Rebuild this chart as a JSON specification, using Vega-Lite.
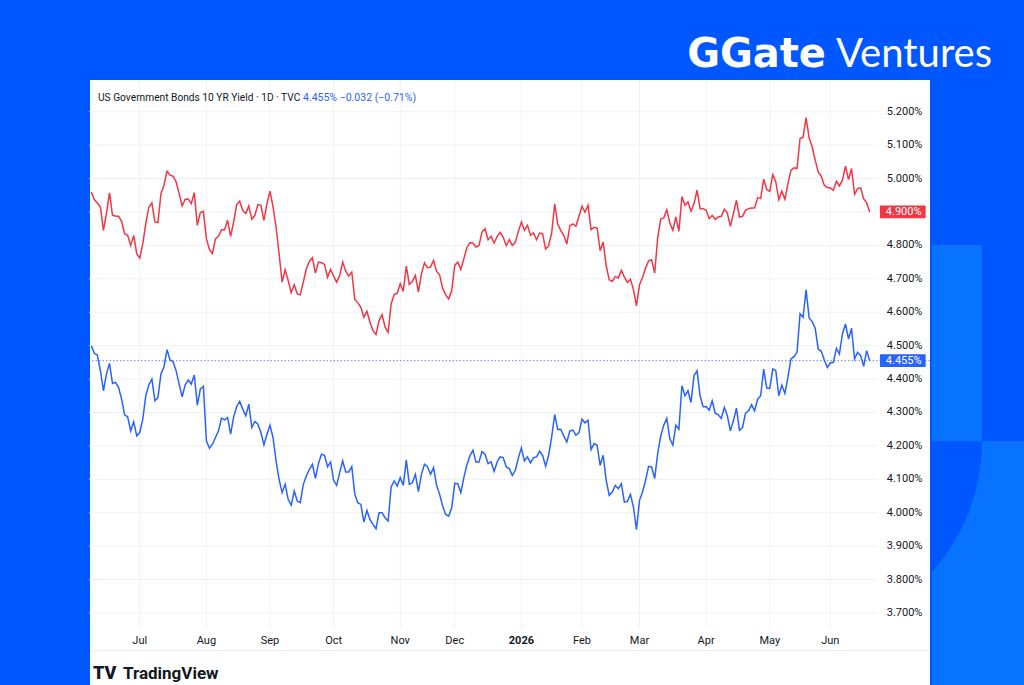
{
  "$schema": "https://vega.github.io/schema/vega-lite/v6.json",
  "width": 840,
  "height": 605,
  "autosize": "none",
  "padding": {"left": 90, "top": 80, "right": 94, "bottom": 0},
  "background": "#0056ff",
  "config": {"view": {"fill": "#ffffff", "stroke": null}, "font": "Roboto"},
  "datasets": {
    "yields": [
      {"date": "2025-06-06", "us30y": 4.960, "us10y": 4.500},
      {"date": "2025-06-09", "us30y": 4.937, "us10y": 4.477},
      {"date": "2025-06-10", "us30y": 4.927, "us10y": 4.472},
      {"date": "2025-06-11", "us30y": 4.915, "us10y": 4.425},
      {"date": "2025-06-12", "us30y": 4.845, "us10y": 4.365},
      {"date": "2025-06-13", "us30y": 4.895, "us10y": 4.415},
      {"date": "2025-06-16", "us30y": 4.957, "us10y": 4.447},
      {"date": "2025-06-17", "us30y": 4.890, "us10y": 4.387},
      {"date": "2025-06-18", "us30y": 4.888, "us10y": 4.390},
      {"date": "2025-06-20", "us30y": 4.887, "us10y": 4.375},
      {"date": "2025-06-23", "us30y": 4.872, "us10y": 4.340},
      {"date": "2025-06-24", "us30y": 4.835, "us10y": 4.293},
      {"date": "2025-06-25", "us30y": 4.830, "us10y": 4.287},
      {"date": "2025-06-26", "us30y": 4.800, "us10y": 4.245},
      {"date": "2025-06-27", "us30y": 4.830, "us10y": 4.272},
      {"date": "2025-06-30", "us30y": 4.775, "us10y": 4.230},
      {"date": "2025-07-01", "us30y": 4.762, "us10y": 4.240},
      {"date": "2025-07-02", "us30y": 4.805, "us10y": 4.280},
      {"date": "2025-07-03", "us30y": 4.865, "us10y": 4.350},
      {"date": "2025-07-07", "us30y": 4.915, "us10y": 4.383},
      {"date": "2025-07-08", "us30y": 4.927, "us10y": 4.400},
      {"date": "2025-07-09", "us30y": 4.870, "us10y": 4.335},
      {"date": "2025-07-10", "us30y": 4.868, "us10y": 4.345},
      {"date": "2025-07-11", "us30y": 4.955, "us10y": 4.415},
      {"date": "2025-07-14", "us30y": 4.980, "us10y": 4.437},
      {"date": "2025-07-15", "us30y": 5.022, "us10y": 4.488},
      {"date": "2025-07-16", "us30y": 5.010, "us10y": 4.457},
      {"date": "2025-07-17", "us30y": 5.007, "us10y": 4.452},
      {"date": "2025-07-18", "us30y": 4.990, "us10y": 4.425},
      {"date": "2025-07-21", "us30y": 4.955, "us10y": 4.385},
      {"date": "2025-07-22", "us30y": 4.918, "us10y": 4.347},
      {"date": "2025-07-23", "us30y": 4.938, "us10y": 4.383},
      {"date": "2025-07-24", "us30y": 4.939, "us10y": 4.397},
      {"date": "2025-07-25", "us30y": 4.925, "us10y": 4.385},
      {"date": "2025-07-28", "us30y": 4.958, "us10y": 4.412},
      {"date": "2025-07-29", "us30y": 4.860, "us10y": 4.322},
      {"date": "2025-07-30", "us30y": 4.898, "us10y": 4.370},
      {"date": "2025-07-31", "us30y": 4.902, "us10y": 4.378},
      {"date": "2025-08-01", "us30y": 4.820, "us10y": 4.215},
      {"date": "2025-08-04", "us30y": 4.788, "us10y": 4.193},
      {"date": "2025-08-05", "us30y": 4.775, "us10y": 4.205},
      {"date": "2025-08-06", "us30y": 4.820, "us10y": 4.225},
      {"date": "2025-08-07", "us30y": 4.827, "us10y": 4.245},
      {"date": "2025-08-08", "us30y": 4.847, "us10y": 4.283},
      {"date": "2025-08-11", "us30y": 4.847, "us10y": 4.278},
      {"date": "2025-08-12", "us30y": 4.875, "us10y": 4.285},
      {"date": "2025-08-13", "us30y": 4.827, "us10y": 4.235},
      {"date": "2025-08-14", "us30y": 4.870, "us10y": 4.287},
      {"date": "2025-08-15", "us30y": 4.922, "us10y": 4.318},
      {"date": "2025-08-18", "us30y": 4.932, "us10y": 4.333},
      {"date": "2025-08-19", "us30y": 4.905, "us10y": 4.310},
      {"date": "2025-08-20", "us30y": 4.895, "us10y": 4.290},
      {"date": "2025-08-21", "us30y": 4.918, "us10y": 4.325},
      {"date": "2025-08-22", "us30y": 4.878, "us10y": 4.255},
      {"date": "2025-08-25", "us30y": 4.890, "us10y": 4.273},
      {"date": "2025-08-26", "us30y": 4.922, "us10y": 4.265},
      {"date": "2025-08-27", "us30y": 4.920, "us10y": 4.240},
      {"date": "2025-08-28", "us30y": 4.875, "us10y": 4.203},
      {"date": "2025-08-29", "us30y": 4.925, "us10y": 4.235},
      {"date": "2025-09-02", "us30y": 4.962, "us10y": 4.262},
      {"date": "2025-09-03", "us30y": 4.915, "us10y": 4.225},
      {"date": "2025-09-04", "us30y": 4.855, "us10y": 4.155},
      {"date": "2025-09-05", "us30y": 4.775, "us10y": 4.100},
      {"date": "2025-09-08", "us30y": 4.690, "us10y": 4.060},
      {"date": "2025-09-09", "us30y": 4.727, "us10y": 4.085},
      {"date": "2025-09-10", "us30y": 4.695, "us10y": 4.040},
      {"date": "2025-09-11", "us30y": 4.658, "us10y": 4.023},
      {"date": "2025-09-12", "us30y": 4.682, "us10y": 4.065},
      {"date": "2025-09-15", "us30y": 4.655, "us10y": 4.035},
      {"date": "2025-09-16", "us30y": 4.652, "us10y": 4.030},
      {"date": "2025-09-17", "us30y": 4.690, "us10y": 4.085},
      {"date": "2025-09-18", "us30y": 4.730, "us10y": 4.110},
      {"date": "2025-09-19", "us30y": 4.752, "us10y": 4.130},
      {"date": "2025-09-22", "us30y": 4.763, "us10y": 4.145},
      {"date": "2025-09-23", "us30y": 4.717, "us10y": 4.103},
      {"date": "2025-09-24", "us30y": 4.750, "us10y": 4.147},
      {"date": "2025-09-25", "us30y": 4.748, "us10y": 4.175},
      {"date": "2025-09-26", "us30y": 4.743, "us10y": 4.172},
      {"date": "2025-09-29", "us30y": 4.705, "us10y": 4.138},
      {"date": "2025-09-30", "us30y": 4.728, "us10y": 4.152},
      {"date": "2025-10-01", "us30y": 4.708, "us10y": 4.097},
      {"date": "2025-10-02", "us30y": 4.690, "us10y": 4.082},
      {"date": "2025-10-03", "us30y": 4.710, "us10y": 4.120},
      {"date": "2025-10-06", "us30y": 4.750, "us10y": 4.155},
      {"date": "2025-10-07", "us30y": 4.723, "us10y": 4.122},
      {"date": "2025-10-08", "us30y": 4.708, "us10y": 4.122},
      {"date": "2025-10-09", "us30y": 4.720, "us10y": 4.138},
      {"date": "2025-10-10", "us30y": 4.638, "us10y": 4.055},
      {"date": "2025-10-14", "us30y": 4.628, "us10y": 4.030},
      {"date": "2025-10-15", "us30y": 4.615, "us10y": 4.025},
      {"date": "2025-10-16", "us30y": 4.585, "us10y": 3.972},
      {"date": "2025-10-17", "us30y": 4.603, "us10y": 4.007},
      {"date": "2025-10-20", "us30y": 4.570, "us10y": 3.980},
      {"date": "2025-10-21", "us30y": 4.545, "us10y": 3.965},
      {"date": "2025-10-22", "us30y": 4.533, "us10y": 3.952},
      {"date": "2025-10-23", "us30y": 4.575, "us10y": 4.000},
      {"date": "2025-10-24", "us30y": 4.593, "us10y": 4.000},
      {"date": "2025-10-27", "us30y": 4.555, "us10y": 3.985},
      {"date": "2025-10-28", "us30y": 4.540, "us10y": 3.975},
      {"date": "2025-10-29", "us30y": 4.625, "us10y": 4.077},
      {"date": "2025-10-30", "us30y": 4.653, "us10y": 4.095},
      {"date": "2025-10-31", "us30y": 4.657, "us10y": 4.080},
      {"date": "2025-11-03", "us30y": 4.685, "us10y": 4.105},
      {"date": "2025-11-04", "us30y": 4.662, "us10y": 4.082},
      {"date": "2025-11-05", "us30y": 4.738, "us10y": 4.158},
      {"date": "2025-11-06", "us30y": 4.683, "us10y": 4.085},
      {"date": "2025-11-07", "us30y": 4.692, "us10y": 4.090},
      {"date": "2025-11-10", "us30y": 4.710, "us10y": 4.115},
      {"date": "2025-11-12", "us30y": 4.660, "us10y": 4.063},
      {"date": "2025-11-13", "us30y": 4.715, "us10y": 4.115},
      {"date": "2025-11-14", "us30y": 4.748, "us10y": 4.145},
      {"date": "2025-11-17", "us30y": 4.733, "us10y": 4.138},
      {"date": "2025-11-18", "us30y": 4.735, "us10y": 4.115},
      {"date": "2025-11-19", "us30y": 4.755, "us10y": 4.135},
      {"date": "2025-11-20", "us30y": 4.722, "us10y": 4.082},
      {"date": "2025-11-21", "us30y": 4.712, "us10y": 4.055},
      {"date": "2025-11-24", "us30y": 4.672, "us10y": 4.020},
      {"date": "2025-11-25", "us30y": 4.652, "us10y": 3.995},
      {"date": "2025-11-26", "us30y": 4.640, "us10y": 3.990},
      {"date": "2025-11-28", "us30y": 4.665, "us10y": 4.015},
      {"date": "2025-12-01", "us30y": 4.740, "us10y": 4.088},
      {"date": "2025-12-02", "us30y": 4.750, "us10y": 4.087},
      {"date": "2025-12-03", "us30y": 4.728, "us10y": 4.060},
      {"date": "2025-12-04", "us30y": 4.760, "us10y": 4.105},
      {"date": "2025-12-05", "us30y": 4.793, "us10y": 4.143},
      {"date": "2025-12-08", "us30y": 4.808, "us10y": 4.170},
      {"date": "2025-12-09", "us30y": 4.807, "us10y": 4.187},
      {"date": "2025-12-10", "us30y": 4.795, "us10y": 4.152},
      {"date": "2025-12-11", "us30y": 4.800, "us10y": 4.152},
      {"date": "2025-12-12", "us30y": 4.840, "us10y": 4.183},
      {"date": "2025-12-15", "us30y": 4.850, "us10y": 4.175},
      {"date": "2025-12-16", "us30y": 4.817, "us10y": 4.147},
      {"date": "2025-12-17", "us30y": 4.827, "us10y": 4.152},
      {"date": "2025-12-18", "us30y": 4.807, "us10y": 4.124},
      {"date": "2025-12-19", "us30y": 4.827, "us10y": 4.152},
      {"date": "2025-12-22", "us30y": 4.839, "us10y": 4.167},
      {"date": "2025-12-23", "us30y": 4.824, "us10y": 4.165},
      {"date": "2025-12-24", "us30y": 4.799, "us10y": 4.137},
      {"date": "2025-12-26", "us30y": 4.817, "us10y": 4.132},
      {"date": "2025-12-29", "us30y": 4.800, "us10y": 4.112},
      {"date": "2025-12-30", "us30y": 4.809, "us10y": 4.127},
      {"date": "2025-12-31", "us30y": 4.842, "us10y": 4.164},
      {"date": "2026-01-02", "us30y": 4.870, "us10y": 4.194},
      {"date": "2026-01-05", "us30y": 4.845, "us10y": 4.155},
      {"date": "2026-01-06", "us30y": 4.860, "us10y": 4.167},
      {"date": "2026-01-07", "us30y": 4.830, "us10y": 4.149},
      {"date": "2026-01-08", "us30y": 4.837, "us10y": 4.165},
      {"date": "2026-01-09", "us30y": 4.817, "us10y": 4.167},
      {"date": "2026-01-12", "us30y": 4.837, "us10y": 4.184},
      {"date": "2026-01-13", "us30y": 4.835, "us10y": 4.172},
      {"date": "2026-01-14", "us30y": 4.789, "us10y": 4.139},
      {"date": "2026-01-15", "us30y": 4.799, "us10y": 4.172},
      {"date": "2026-01-16", "us30y": 4.837, "us10y": 4.227},
      {"date": "2026-01-20", "us30y": 4.924, "us10y": 4.294},
      {"date": "2026-01-21", "us30y": 4.864, "us10y": 4.249},
      {"date": "2026-01-22", "us30y": 4.844, "us10y": 4.250},
      {"date": "2026-01-23", "us30y": 4.830, "us10y": 4.229},
      {"date": "2026-01-26", "us30y": 4.804, "us10y": 4.212},
      {"date": "2026-01-27", "us30y": 4.859, "us10y": 4.245},
      {"date": "2026-01-28", "us30y": 4.864, "us10y": 4.247},
      {"date": "2026-01-29", "us30y": 4.857, "us10y": 4.232},
      {"date": "2026-01-30", "us30y": 4.887, "us10y": 4.239},
      {"date": "2026-02-02", "us30y": 4.917, "us10y": 4.280},
      {"date": "2026-02-03", "us30y": 4.899, "us10y": 4.269},
      {"date": "2026-02-04", "us30y": 4.920, "us10y": 4.277},
      {"date": "2026-02-05", "us30y": 4.847, "us10y": 4.189},
      {"date": "2026-02-06", "us30y": 4.854, "us10y": 4.207},
      {"date": "2026-02-09", "us30y": 4.852, "us10y": 4.202},
      {"date": "2026-02-10", "us30y": 4.784, "us10y": 4.142},
      {"date": "2026-02-11", "us30y": 4.810, "us10y": 4.172},
      {"date": "2026-02-12", "us30y": 4.739, "us10y": 4.097},
      {"date": "2026-02-13", "us30y": 4.697, "us10y": 4.052},
      {"date": "2026-02-17", "us30y": 4.692, "us10y": 4.062},
      {"date": "2026-02-18", "us30y": 4.707, "us10y": 4.082},
      {"date": "2026-02-19", "us30y": 4.702, "us10y": 4.072},
      {"date": "2026-02-20", "us30y": 4.725, "us10y": 4.087},
      {"date": "2026-02-23", "us30y": 4.705, "us10y": 4.032},
      {"date": "2026-02-24", "us30y": 4.689, "us10y": 4.034},
      {"date": "2026-02-25", "us30y": 4.699, "us10y": 4.055},
      {"date": "2026-02-26", "us30y": 4.667, "us10y": 4.017},
      {"date": "2026-02-27", "us30y": 4.619, "us10y": 3.949},
      {"date": "2026-03-02", "us30y": 4.682, "us10y": 4.037},
      {"date": "2026-03-03", "us30y": 4.704, "us10y": 4.062},
      {"date": "2026-03-04", "us30y": 4.732, "us10y": 4.097},
      {"date": "2026-03-05", "us30y": 4.754, "us10y": 4.139},
      {"date": "2026-03-06", "us30y": 4.757, "us10y": 4.137},
      {"date": "2026-03-09", "us30y": 4.717, "us10y": 4.102},
      {"date": "2026-03-10", "us30y": 4.822, "us10y": 4.177},
      {"date": "2026-03-11", "us30y": 4.879, "us10y": 4.229},
      {"date": "2026-03-12", "us30y": 4.882, "us10y": 4.262},
      {"date": "2026-03-13", "us30y": 4.907, "us10y": 4.282},
      {"date": "2026-03-16", "us30y": 4.867, "us10y": 4.222},
      {"date": "2026-03-17", "us30y": 4.845, "us10y": 4.202},
      {"date": "2026-03-18", "us30y": 4.885, "us10y": 4.262},
      {"date": "2026-03-19", "us30y": 4.842, "us10y": 4.250},
      {"date": "2026-03-20", "us30y": 4.946, "us10y": 4.380},
      {"date": "2026-03-23", "us30y": 4.920, "us10y": 4.350},
      {"date": "2026-03-24", "us30y": 4.930, "us10y": 4.365},
      {"date": "2026-03-25", "us30y": 4.902, "us10y": 4.330},
      {"date": "2026-03-26", "us30y": 4.925, "us10y": 4.410},
      {"date": "2026-03-27", "us30y": 4.965, "us10y": 4.425},
      {"date": "2026-03-30", "us30y": 4.910, "us10y": 4.350},
      {"date": "2026-03-31", "us30y": 4.910, "us10y": 4.317},
      {"date": "2026-04-01", "us30y": 4.905, "us10y": 4.318},
      {"date": "2026-04-02", "us30y": 4.880, "us10y": 4.307},
      {"date": "2026-04-06", "us30y": 4.890, "us10y": 4.335},
      {"date": "2026-04-07", "us30y": 4.878, "us10y": 4.298},
      {"date": "2026-04-08", "us30y": 4.885, "us10y": 4.293},
      {"date": "2026-04-09", "us30y": 4.887, "us10y": 4.282},
      {"date": "2026-04-10", "us30y": 4.908, "us10y": 4.315},
      {"date": "2026-04-13", "us30y": 4.897, "us10y": 4.290},
      {"date": "2026-04-14", "us30y": 4.857, "us10y": 4.245},
      {"date": "2026-04-15", "us30y": 4.895, "us10y": 4.275},
      {"date": "2026-04-16", "us30y": 4.935, "us10y": 4.313},
      {"date": "2026-04-17", "us30y": 4.885, "us10y": 4.247},
      {"date": "2026-04-20", "us30y": 4.887, "us10y": 4.255},
      {"date": "2026-04-21", "us30y": 4.905, "us10y": 4.298},
      {"date": "2026-04-22", "us30y": 4.910, "us10y": 4.305},
      {"date": "2026-04-23", "us30y": 4.912, "us10y": 4.323},
      {"date": "2026-04-24", "us30y": 4.912, "us10y": 4.305},
      {"date": "2026-04-27", "us30y": 4.943, "us10y": 4.340},
      {"date": "2026-04-28", "us30y": 4.940, "us10y": 4.350},
      {"date": "2026-04-29", "us30y": 4.998, "us10y": 4.430},
      {"date": "2026-04-30", "us30y": 4.967, "us10y": 4.373},
      {"date": "2026-05-01", "us30y": 4.962, "us10y": 4.372},
      {"date": "2026-05-04", "us30y": 5.012, "us10y": 4.430},
      {"date": "2026-05-05", "us30y": 4.990, "us10y": 4.425},
      {"date": "2026-05-06", "us30y": 4.937, "us10y": 4.350},
      {"date": "2026-05-07", "us30y": 4.962, "us10y": 4.382},
      {"date": "2026-05-08", "us30y": 4.938, "us10y": 4.357},
      {"date": "2026-05-11", "us30y": 4.985, "us10y": 4.405},
      {"date": "2026-05-12", "us30y": 5.025, "us10y": 4.460},
      {"date": "2026-05-13", "us30y": 5.032, "us10y": 4.467},
      {"date": "2026-05-14", "us30y": 5.030, "us10y": 4.480},
      {"date": "2026-05-15", "us30y": 5.120, "us10y": 4.595},
      {"date": "2026-05-18", "us30y": 5.123, "us10y": 4.585},
      {"date": "2026-05-19", "us30y": 5.182, "us10y": 4.667},
      {"date": "2026-05-20", "us30y": 5.122, "us10y": 4.583},
      {"date": "2026-05-21", "us30y": 5.095, "us10y": 4.572},
      {"date": "2026-05-22", "us30y": 5.055, "us10y": 4.552},
      {"date": "2026-05-26", "us30y": 5.020, "us10y": 4.490},
      {"date": "2026-05-27", "us30y": 5.007, "us10y": 4.483},
      {"date": "2026-05-28", "us30y": 4.980, "us10y": 4.458},
      {"date": "2026-05-29", "us30y": 4.973, "us10y": 4.435},
      {"date": "2026-06-01", "us30y": 4.972, "us10y": 4.448},
      {"date": "2026-06-02", "us30y": 4.965, "us10y": 4.450},
      {"date": "2026-06-03", "us30y": 4.992, "us10y": 4.492},
      {"date": "2026-06-04", "us30y": 4.978, "us10y": 4.475},
      {"date": "2026-06-05", "us30y": 4.995, "us10y": 4.535},
      {"date": "2026-06-08", "us30y": 5.037, "us10y": 4.565},
      {"date": "2026-06-09", "us30y": 4.997, "us10y": 4.520},
      {"date": "2026-06-10", "us30y": 5.030, "us10y": 4.552},
      {"date": "2026-06-11", "us30y": 4.953, "us10y": 4.460},
      {"date": "2026-06-12", "us30y": 4.970, "us10y": 4.480},
      {"date": "2026-06-15", "us30y": 4.972, "us10y": 4.470},
      {"date": "2026-06-16", "us30y": 4.940, "us10y": 4.438},
      {"date": "2026-06-17", "us30y": 4.927, "us10y": 4.485},
      {"date": "2026-06-18", "us30y": 4.900, "us10y": 4.455}
    ],
    "months": [
      {"date": "2025-07-01"}, {"date": "2025-08-01"}, {"date": "2025-09-02"},
      {"date": "2025-10-01"}, {"date": "2025-11-03"}, {"date": "2025-12-01"},
      {"date": "2026-01-02"}, {"date": "2026-02-02"}, {"date": "2026-03-02"},
      {"date": "2026-04-01"}, {"date": "2026-05-01"}, {"date": "2026-06-01"}
    ],
    "ticks": [
      {"level": 3.7}, {"level": 3.8}, {"level": 3.9}, {"level": 4.0},
      {"level": 4.1}, {"level": 4.2}, {"level": 4.3}, {"level": 4.4},
      {"level": 4.5}, {"level": 4.6}, {"level": 4.7}, {"level": 4.8},
      {"level": 4.9}, {"level": 5.0}, {"level": 5.1}, {"level": 5.2}
    ]
  },
  "layer": [
    {
      "data": {"values": [{}]},
      "mark": {
        "type": "point", "filled": true, "opacity": 1, "color": "#0873ff", "size": 40000, "xOffset": 108.3,
        "shape": "M-0.46,-2.2L0.04,-2.2L0.04,-0.24L-0.46,-0.24Z M0.04,-0.24L0.46,-0.24L0.46,2.2L-0.46,2.2L-0.46,1.07A1.966,1.966 0 0 0 0.04,-0.24Z"
      },
      "encoding": {
        "x": {"datum": "2026-06-18", "type": "ordinal", "axis": null, "scale": {"type": "point", "range": [1.3, 779.7], "padding": 0}},
        "y": {"datum": 4.1428, "type": "quantitative", "axis": null}
      }
    },
    {
      "data": {"name": "ticks"},
      "mark": {"type": "rule", "stroke": "#eff1f4", "strokeWidth": 1, "xOffset": -2, "x2Offset": 8},
      "encoding": {
        "y": {"field": "level", "type": "quantitative", "axis": null},
        "x": {"datum": "2025-06-06", "type": "ordinal", "axis": null, "scale": {"type": "point", "range": [1.3, 779.7], "padding": 0}},
        "x2": {"datum": "2026-06-18"}
      }
    },
    {
      "data": {"name": "months"},
      "mark": {"type": "rule", "stroke": "#eff1f4", "strokeWidth": 1},
      "encoding": {
        "x": {"field": "date", "type": "ordinal", "axis": null, "scale": {"type": "point", "range": [1.3, 779.7], "padding": 0}},
        "y": {"datum": 3.6551, "type": "quantitative", "axis": null},
        "y2": {"datum": 5.2949}
      }
    },
    {
      "data": {"values": [{}]},
      "mark": {"type": "rule", "stroke": "#e8eaee", "strokeWidth": 1},
      "encoding": {"y": {"datum": 3.5872, "type": "quantitative", "axis": null}}
    },
    {
      "data": {"name": "yields"},
      "transform": [{"filter": {"field": "date", "equal": "2026-06-18"}}],
      "mark": {"type": "rule", "stroke": "#2962ff", "strokeWidth": 1, "strokeDash": [1.5, 2], "opacity": 0.75},
      "encoding": {"y": {"field": "us10y", "type": "quantitative", "axis": null}}
    },
    {
      "data": {"name": "yields"},
      "transform": [{"fold": ["us30y", "us10y"], "as": ["series", "yield"]}],
      "mark": {"type": "line", "strokeWidth": 1.5},
      "encoding": {
        "x": {"field": "date", "type": "ordinal", "axis": null, "scale": {"type": "point", "range": [1.3, 779.7], "padding": 0}},
        "y": {"field": "yield", "type": "quantitative", "axis": null, "scale": {"domain": [3.4845, 5.2949], "nice": false, "zero": false}},
        "color": {
          "field": "series",
          "type": "nominal",
          "scale": {"domain": ["us30y", "us10y"], "range": ["#f23645", "#2962ff"]},
          "legend": null
        }
      }
    },
    {
      "data": {"name": "months"},
      "mark": {
        "type": "text", "fontSize": 11, "color": "#131722", "align": "center", "baseline": "middle",
        "text": {"expr": "datum.date == '2026-01-02' ? '2026' : utcFormat(toDate(datum.date), '%b')"},
        "fontWeight": {"expr": "datum.date == '2026-01-02' ? 'bold' : 'normal'"}
      },
      "encoding": {
        "x": {"field": "date", "type": "ordinal", "axis": null, "scale": {"type": "point", "range": [1.3, 779.7], "padding": 0}},
        "y": {"datum": 3.6162, "type": "quantitative", "axis": null}
      }
    },
    {
      "data": {"name": "ticks"},
      "mark": {
        "type": "text", "fontSize": 11, "color": "#131722", "align": "left", "baseline": "middle", "dx": 17,
        "text": {"expr": "format(datum.level, '.3f') + '%'"}
      },
      "encoding": {
        "x": {"datum": "2026-06-18", "type": "ordinal", "axis": null, "scale": {"type": "point", "range": [1.3, 779.7], "padding": 0}},
        "y": {"field": "level", "type": "quantitative", "axis": null}
      }
    },
    {
      "data": {"name": "yields"},
      "transform": [
        {"filter": {"field": "date", "equal": "2026-06-18"}},
        {"fold": ["us30y", "us10y"], "as": ["series", "yield"]}
      ],
      "mark": {"type": "point", "filled": true, "opacity": 1, "shape": "M-1,-0.278L1,-0.278L1,0.278L-1,0.278Z", "size": 2088, "xOffset": 33.1},
      "encoding": {
        "x": {"field": "date", "type": "ordinal", "axis": null, "scale": {"type": "point", "range": [1.3, 779.7], "padding": 0}},
        "y": {"field": "yield", "type": "quantitative", "axis": null},
        "color": {"field": "series", "type": "nominal", "legend": null}
      }
    },
    {
      "data": {"name": "yields"},
      "transform": [
        {"filter": {"field": "date", "equal": "2026-06-18"}},
        {"fold": ["us30y", "us10y"], "as": ["series", "yield"]}
      ],
      "mark": {"type": "text", "color": "#ffffff", "fontSize": 11, "align": "center", "baseline": "middle", "dx": 34, "text": {"expr": "format(datum.yield, '.3f') + '%'"}},
      "encoding": {
        "x": {"field": "date", "type": "ordinal", "axis": null, "scale": {"type": "point", "range": [1.3, 779.7], "padding": 0}},
        "y": {"field": "yield", "type": "quantitative", "axis": null}
      }
    },
    {
      "data": {"values": [{}]},
      "mark": {"type": "text", "text": "US Government Bonds 10 YR Yield · 1D · TVC", "align": "left", "baseline": "middle", "fontSize": 10.2, "color": "#131722", "dx": 6.7},
      "encoding": {
        "x": {"datum": "2025-06-06", "type": "ordinal", "axis": null, "scale": {"type": "point", "range": [1.3, 779.7], "padding": 0}},
        "y": {"datum": 5.241, "type": "quantitative", "axis": null}
      }
    },
    {
      "data": {"values": [{}]},
      "mark": {"type": "text", "text": "4.455%  −0.032 (−0.71%)", "align": "left", "baseline": "middle", "fontSize": 10.5, "color": "#2962ff", "dx": 211.7},
      "encoding": {
        "x": {"datum": "2025-06-06", "type": "ordinal", "axis": null, "scale": {"type": "point", "range": [1.3, 779.7], "padding": 0}},
        "y": {"datum": 5.241, "type": "quantitative", "axis": null}
      }
    },
    {
      "data": {"values": [{}]},
      "mark": {"type": "text", "text": "TV", "align": "left", "baseline": "middle", "fontSize": 18, "fontWeight": 900, "color": "#131722", "dx": 1.7},
      "encoding": {
        "x": {"datum": "2025-06-06", "type": "ordinal", "axis": null, "scale": {"type": "point", "range": [1.3, 779.7], "padding": 0}},
        "y": {"datum": 3.5175, "type": "quantitative", "axis": null}
      }
    },
    {
      "data": {"values": [{}]},
      "mark": {"type": "text", "text": "TradingView", "align": "left", "baseline": "middle", "fontSize": 17, "fontWeight": "bold", "color": "#131722", "dx": 31.7},
      "encoding": {
        "x": {"datum": "2025-06-06", "type": "ordinal", "axis": null, "scale": {"type": "point", "range": [1.3, 779.7], "padding": 0}},
        "y": {"datum": 3.5175, "type": "quantitative", "axis": null}
      }
    },
    {
      "data": {"values": [{}]},
      "mark": {"type": "text", "text": "G", "align": "right", "baseline": "alphabetic", "font": "DejaVu Sans", "fontSize": 40, "fontWeight": "bold", "color": "#ffffff", "dx": -149.7},
      "encoding": {
        "x": {"datum": "2026-06-18", "type": "ordinal", "axis": null, "scale": {"type": "point", "range": [1.3, 779.7], "padding": 0}},
        "y": {"datum": 5.3338, "type": "quantitative", "axis": null}
      }
    },
    {
      "data": {"values": [{}]},
      "mark": {"type": "text", "text": "Gate", "align": "right", "baseline": "alphabetic", "font": "DejaVu Sans", "fontSize": 40, "fontWeight": "bold", "color": "#ffffff", "dx": -43.7},
      "encoding": {
        "x": {"datum": "2026-06-18", "type": "ordinal", "axis": null, "scale": {"type": "point", "range": [1.3, 779.7], "padding": 0}},
        "y": {"datum": 5.3338, "type": "quantitative", "axis": null}
      }
    },
    {
      "data": {"values": [{}]},
      "mark": {"type": "text", "text": "Ventures", "align": "left", "baseline": "alphabetic", "font": "Lato", "fontSize": 40, "fontWeight": "normal", "color": "#ffffff", "dx": -33.7},
      "encoding": {
        "x": {"datum": "2026-06-18", "type": "ordinal", "axis": null, "scale": {"type": "point", "range": [1.3, 779.7], "padding": 0}},
        "y": {"datum": 5.3338, "type": "quantitative", "axis": null}
      }
    }
  ]
}
